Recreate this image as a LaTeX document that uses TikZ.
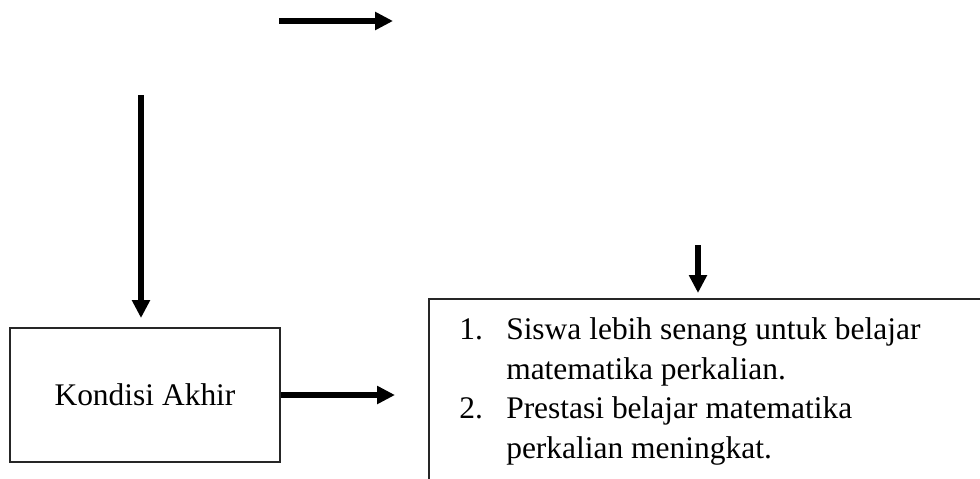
\documentclass[tikz,border=0pt]{standalone}
\usepackage{fontspec}
\setmainfont{Liberation Serif}
\usetikzlibrary{arrows.meta}

\begin{document}
\begin{tikzpicture}[x=0.75pt,y=-0.75pt,
    kotak/.style={draw=black!85,line width=1.5pt,inner sep=0pt},
    panah/.style={line width=4.5pt,-{Triangle[length=13.5pt,width=13pt]}},
    every node/.style={font=\fontsize{23.6}{29.6}\selectfont}]
	\clip (0,0) rectangle (980,478);
	\node[kotak,anchor=north west,minimum width=270*0.75pt,minimum height=134*0.75pt] (kondisi) at (9,327) {Kondisi Akhir};
	\node[kotak,anchor=north west,minimum width=600*0.75pt,minimum height=250*0.75pt] (hasil) at (428,298) {};
	% base = baseline of the last line
	\node[anchor=base west,inner sep=0pt,align=left] (daftar) at (459,458)
		{\makebox[35.25pt][l]{1.}Siswa lebih senang untuk belajar\\
		 \hspace*{35.25pt}matematika perkalian.\\
		 \makebox[35.25pt][l]{2.}Prestasi belajar matematika\\
		 \hspace*{35.25pt}perkalian meningkat.};
	\coordinate (atas) at (279,21);
	\coordinate (kiri) at (141,95);
	\coordinate (kanan) at (698,245);
	\draw[panah] (atas) -- ++(114,0);
	\draw[panah,shorten >=6.75pt] (kiri) -- (kiri |- kondisi.north);
	\draw[panah] (kondisi.east) -- ++(114,0);
	\draw[panah,shorten >=3.75pt] (kanan) -- (kanan |- hasil.north);
\end{tikzpicture}
\end{document}
